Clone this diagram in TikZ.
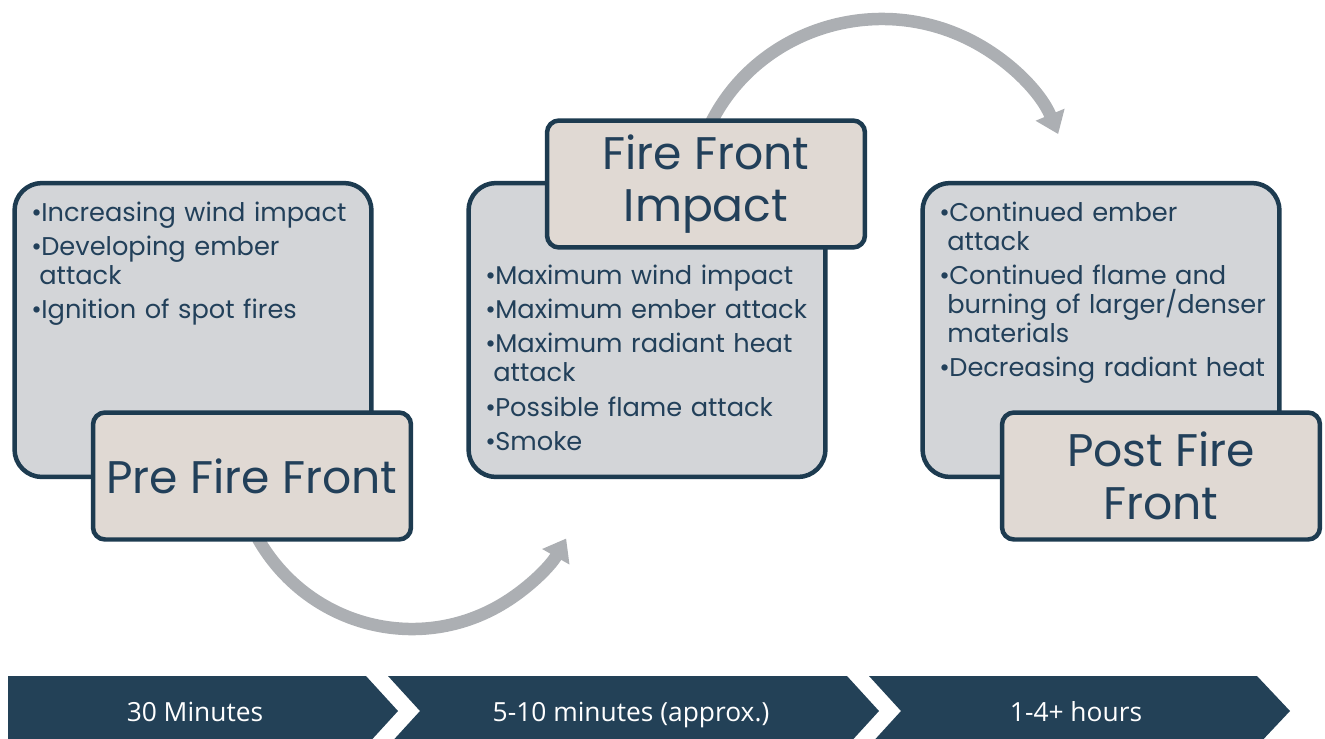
\documentclass[tikz,border=0pt]{standalone}
\usepackage{fontspec}
\setmainfont{Poppins}
\newfontfamily\barfont{Open Sans}
\usepackage{xcolor}
\usetikzlibrary{arrows.meta,positioning}
\definecolor{navy}{HTML}{1D3B50}
\definecolor{inktext}{HTML}{22405A}
\definecolor{boxgray}{HTML}{D3D5D8}
\definecolor{tagbeige}{HTML}{E0D9D3}
\definecolor{arrowgray}{HTML}{ACAFB3}
\definecolor{barblue}{HTML}{234157}
\newcommand{\firept}[1]{\par\hangindent=0.16cm\hangafter=1\makebox[0.2cm][l]{\textbullet}#1}

\begin{document}
\begin{tikzpicture}[x=0.02cm, y=-0.02cm,
	panel/.style={draw=navy, line width=0.09cm, fill=boxgray, rounded corners=0.55cm, minimum width=7.14cm, minimum height=5.88cm},
	tag/.style={draw=navy, line width=0.09cm, fill=tagbeige, rounded corners=0.24cm, minimum width=6.36cm, minimum height=2.54cm, text=inktext, align=center, font=\fontsize{26}{30}\selectfont},
	list/.style={text=inktext, text width=6.9cm, inner sep=0pt, anchor=base west, font=\fontsize{14.6}{16.5}\selectfont\setlength{\parskip}{3pt}},
	sweep/.style={draw=arrowgray, line width=0.25cm, -{Triangle[length=0.42cm,width=0.6cm]}},
	chev/.style={fill=barblue},
	dur/.style={text=white, text height=11pt, text depth=0pt, font=\barfont\fontsize{15}{17}\selectfont},
	]
	\useasboundingbox (0,0) rectangle (1325,738);
	\clip (0,0) rectangle (1325,738);

	\coordinate (sweep1) at (412,448);
	\coordinate (sweep2) at (882,203);
	\draw[sweep] (sweep1) ++(150:178 and 181) arc[start angle=150, end angle=30, x radius=178, y radius=181];
	\draw[sweep] (sweep2) ++(206:190 and 184) arc[start angle=206, end angle=338, x radius=190, y radius=184];

	\node[panel] (prebox) at (193,330) {};
	\node[panel] (impactbox) at (647,330) {};
	\node[panel] (postbox) at (1101,330) {};

	\node[list] (prelist) at (31,187) {\firept{Increasing wind impact}\firept{Developing ember\newline attack}\firept{Ignition of spot fires}};
	\node[list] (impactlist) at (485,250) {\firept{Maximum wind impact}\firept{Maximum ember attack}\firept{Maximum radiant heat\newline attack}\firept{Possible flame attack}\firept{Smoke}};
	\node[list] (postlist) at (939,187) {\firept{Continued ember\newline attack}\firept{Continued flame and\newline burning of larger/denser\newline materials}\firept{Decreasing radiant heat}};

	\node[tag] (pretag) at (252,476) {Pre Fire Front};
	\node[tag] (impacttag) at (706,184) {Fire Front\\Impact};
	\node[tag] (posttag) at (1161,476) {Post Fire\\Front};

	\fill[chev] (8,676) -- (366,676) -- (398,711) -- (366,746) -- (8,746) -- cycle;
	\fill[chev] (388,676) -- (847,676) -- (879,711) -- (847,746) -- (388,746) -- (420,711) -- cycle;
	\fill[chev] (869,676) -- (1257,676) -- (1290,711) -- (1257,746) -- (869,746) -- (901,711) -- cycle;
	\node[dur] (dur1) at (195,712) {30 Minutes};
	\node[dur] (dur2) at (631,712) {5-10 minutes (approx.)};
	\node[dur] (dur3) at (1076,712) {1-4+ hours};
\end{tikzpicture}
\end{document}
